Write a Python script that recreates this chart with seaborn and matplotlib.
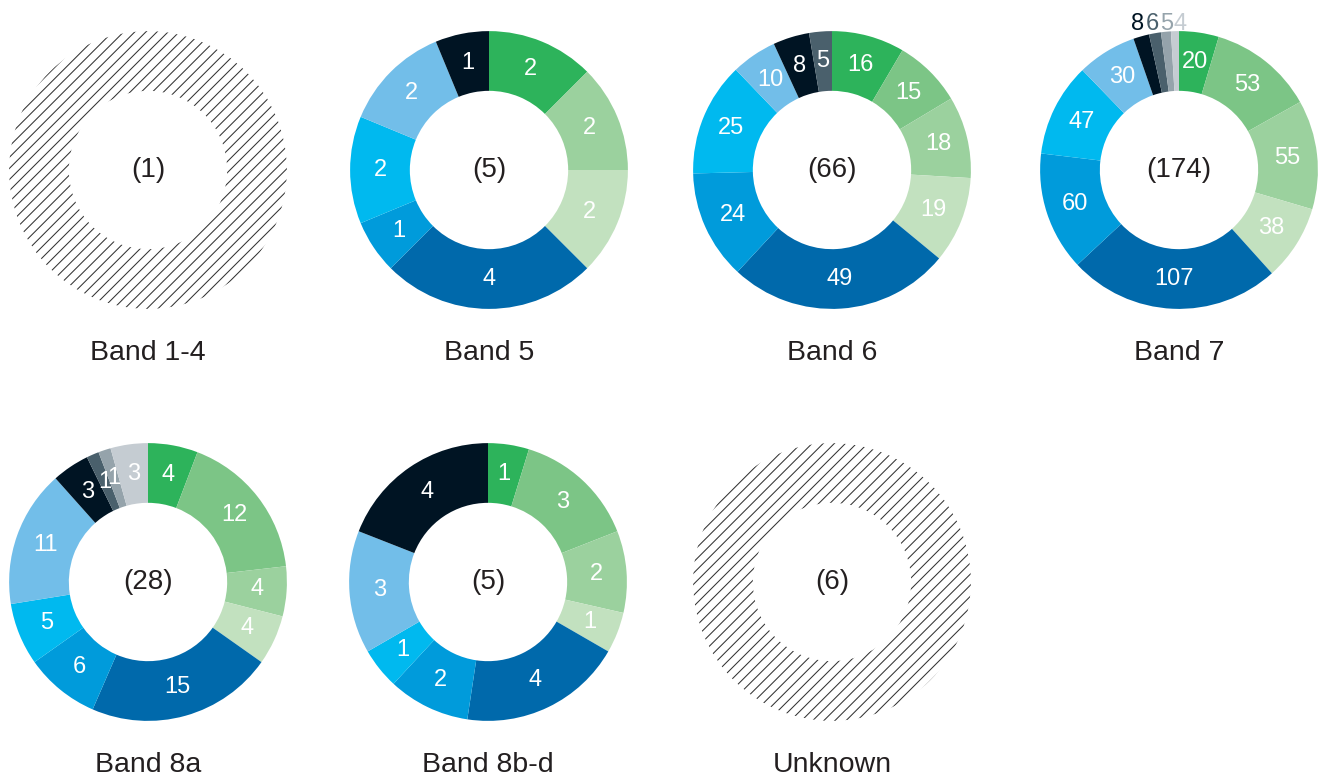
import matplotlib
matplotlib.use("Agg")
import matplotlib.pyplot as plt
import seaborn as sns
import numpy as np

sns.set_theme(style="white")
plt.rcParams['font.family'] = ['Liberation Sans', 'DejaVu Sans']
plt.rcParams['hatch.linewidth'] = 0.75

# ---- data ----
categories = ["C1", "C2", "C3", "C4", "C5", "C6", "C7", "C8", "C9", "C10", "C11", "C12"]
palette = sns.color_palette(["#2db35b", "#7cc586", "#9bd19e", "#c2e1bf",
                             "#0069ab", "#009bdb", "#00b9ef", "#72bee9",
                             "#001423", "#4a606c", "#95a3ab", "#c5ccd2"])

band_titles = ["Band 1-4", "Band 5", "Band 6", "Band 7", "Band 8a", "Band 8b-d", "Unknown"]
band_counts = [1, 5, 66, 174, 28, 5, 6]
band_1_4 = None
band_5 = [2, 0, 2, 2, 4, 1, 2, 2, 1, 0, 0, 0]
band_6 = [16, 15, 18, 19, 49, 24, 25, 10, 8, 5, 0, 0]
band_7 = [20, 53, 55, 38, 107, 60, 47, 30, 8, 6, 5, 4]
band_8a = [4, 12, 4, 4, 15, 6, 5, 11, 3, 1, 1, 3]
band_8bd = [1, 3, 2, 1, 4, 2, 1, 3, 4, 0, 0, 0]
band_unknown = None
band_values = [band_1_4, band_5, band_6, band_7, band_8a, band_8bd, band_unknown]
outside_labels = {"Band 7": [8, 9, 10, 11]}

# ---- layout (pixel centres) ----
W, H = 1327, 778
centers = [(148, 170), (489, 170), (832, 170), (1179, 170),
           (148, 582), (488, 582), (832, 582)]
AX = 300  # axes size in px
LIM = 1.08
TXT = "#231f20"

fig = plt.figure(figsize=(W / 100, H / 100), dpi=100)

for title, count, vals, (cx, cy) in zip(band_titles, band_counts, band_values, centers):
    ax = fig.add_axes([(cx - AX / 2) / W, (H - cy - AX / 2) / H, AX / W, AX / H])
    ax.axis("off")
    if vals is None:
        wedges, _ = ax.pie([1], colors=["white"], startangle=90, radius=1,
                           wedgeprops=dict(width=0.43, edgecolor="#333333",
                                           linewidth=0, hatch="///"))
    else:
        wedges, _ = ax.pie(vals, colors=palette, startangle=90, counterclock=False,
                           radius=1, wedgeprops=dict(width=0.43, linewidth=0))
        outs = outside_labels.get(title, [])
        out_items = []
        for i, (w, v) in enumerate(zip(wedges, vals)):
            if v <= 0:
                continue
            ang = np.deg2rad((w.theta1 + w.theta2) / 2)
            if i in outs:
                out_items.append((1.1 * np.cos(ang), i, v))
            else:
                r = 0.785
                ax.text(r * np.cos(ang), r * np.sin(ang), str(v), ha="center",
                        va="center", fontsize=17, color="white")
        # outside labels: row above the ring, spaced so they do not collide
        out_items.sort()
        prev = None
        for x, i, v in out_items:
            if prev is not None and x < prev + 0.1:
                x = prev + 0.1
            prev = x
            ax.text(x, 1.05, str(v), ha="center", va="center", fontsize=17,
                    color=palette[i], clip_on=False)
    ax.set_xlim(-LIM, LIM)
    ax.set_ylim(-LIM, LIM)
    ax.set_aspect("equal")
    ax.text(0, 0, f"({count})", ha="center", va="center", fontsize=20, color=TXT)
    fig.text(cx / W, 1 - (cy + 190) / H, title, ha="center", va="baseline",
             fontsize=20.5, color=TXT)

fig.savefig("out.png", dpi=100, facecolor="white")
